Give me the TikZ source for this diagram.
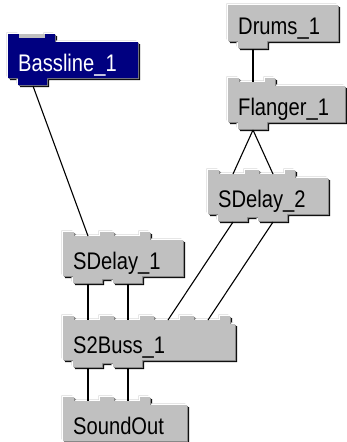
\documentclass[tikz,border=0pt]{standalone}
\usepackage{fontspec}
\newfontfamily\uifont{Liberation Sans}
\usepackage{tikz}

\definecolor{btnface}{HTML}{C0C0C0}
\definecolor{btnshadow}{HTML}{808080}
\definecolor{btnlight}{HTML}{DADADA}
\definecolor{navyface}{HTML}{000080}

\tikzset{
  wire/.style={black, line width=1.1pt},
  modlabel/.style={anchor=base west, inner sep=0pt, font=\uifont\fontsize{24}{24}\selectfont},
  gray face/.style={face/.style={fill=btnface}, labeltext/.style={text=black}, slot/.style={}},
  navy face/.style={face/.style={fill=navyface}, labeltext/.style={text=white}, slot/.style={fill=btnface}},
}

% outline of a module: #1 left, #2 top of port strip, #3 width, #4 inputs, #5 outputs
\newcommand{\modpath}[5]{%
  \pgfmathsetmacro\mR{#1+#3}%
  \pgfmathsetmacro\mB{#2+44}%
  \pgfmathsetmacro\mS{#2+8}%
  \ifnum#4>0
    \xdef\mpath{(#1,#2)}%
    \foreach \i in {1,...,#4}{%
      \pgfmathsetmacro\cx{#1+25+40*(\i-1)}%
      \xdef\mpath{\mpath -- (\cx-14,#2) -- (\cx-14,#2+4) -- (\cx+12,#2+4) -- (\cx+12,#2)}}%
    \pgfmathsetmacro\cx{#1+25+40*(#4-1)+22}%
    \xdef\mpath{\mpath -- (\cx,#2) -- (\cx,\mS)}%
  \else
    \xdef\mpath{(#1,\mS)}%
  \fi
  \xdef\mpath{\mpath -- (\mR,\mS) -- (\mR,\mB)}%
  \ifnum#5>0
    \foreach \j in {#5,...,1}{%
      \pgfmathsetmacro\cx{#1+25+40*(\j-1)}%
      \ifnum\j=#5 \edef\yr{\mB}\else\edef\yr{\mB+3}\fi
      \ifnum\j=1 \edef\yl{\mB}\else\edef\yl{\mB+3}\fi
      \xdef\mpath{\mpath -- (\cx+14,\yr) -- (\cx+14,\mB+7) -- (\cx-15,\mB+7) -- (\cx-15,\yl)}}%
  \fi
  \xdef\mpath{\mpath -- (#1,\mB) -- cycle}%
}

% module box: [face] name, left, top, width, inputs, outputs, label
\newcommand{\modbox}[8][]{%
  \modpath{#3}{#4}{#5}{#6}{#7}%
  \begin{scope}[gray face,#1]
    \fill[black, shift={(2,2)}] \mpath;
    \fill[btnlight, shift={(-1.6,-1.6)}] \mpath;
    \fill[white, shift={(-0.8,-0.8)}] \mpath;
    \fill[btnshadow, shift={(1,1)}] \mpath;
    \fill[face] \mpath;
    \ifnum#6>0
      \foreach \i in {1,...,#6}{
        \pgfmathsetmacro\cx{#3+25+40*(\i-1)}
        \path[slot] (\cx-14,#4) rectangle (\cx+12,#4+4);
        \coordinate (#2-in\i) at (\cx,#4+4);
      }
    \fi
    \ifnum#7>0
      \foreach \j in {1,...,#7}{
        \pgfmathsetmacro\cx{#3+25+40*(\j-1)}
        \coordinate (#2-out\j) at (\cx,#4+52);
      }
    \fi
    \node[modlabel, labeltext] (#2) at (#3+10,#4+37) {\scalebox{0.84}[1]{#8}};
  \end{scope}
}

\begin{document}
\begin{tikzpicture}[x=1pt, y=-1pt]
    \fill[white] (0,0) rectangle (347,442);
    \useasboundingbox (0,0) rectangle (347,442);

    % generators
    \modbox[navy face]{bass}{8}{34}{130}{1}{1}{Bassline\_1}
    \modbox{drums}{228}{-3}{110}{0}{1}{Drums\_1}

    % effects
    \modbox{flanger}{228}{78}{117}{1}{1}{Flanger\_1}
    \modbox{sdl2}{208}{170}{120}{2}{2}{SDelay\_2}
    \modbox{sdl1}{63}{232}{120}{2}{2}{SDelay\_1}

    % mixing and output
    \modbox{buss}{63}{316}{172}{4}{2}{S2Buss\_1}
    \modbox{sout}{63}{397}{124}{2}{0}{SoundOut}

    % wires
    \draw[wire] (bass-out1) -- (sdl1-in1);
    \draw[wire] (drums-out1) -- (flanger-in1);
    \draw[wire] (flanger-out1) -- (sdl2-in1);
    \draw[wire] (flanger-out1) -- (sdl2-in2);
    \draw[wire] (sdl1-out1) -- (buss-in1);
    \draw[wire] (sdl1-out2) -- (buss-in2);
    \draw[wire] (sdl2-out1) -- (buss-in3);
    \draw[wire] (sdl2-out2) -- (buss-in4);
    \draw[wire] (buss-out1) -- (sout-in1);
    \draw[wire] (buss-out2) -- (sout-in2);
\end{tikzpicture}
\end{document}
